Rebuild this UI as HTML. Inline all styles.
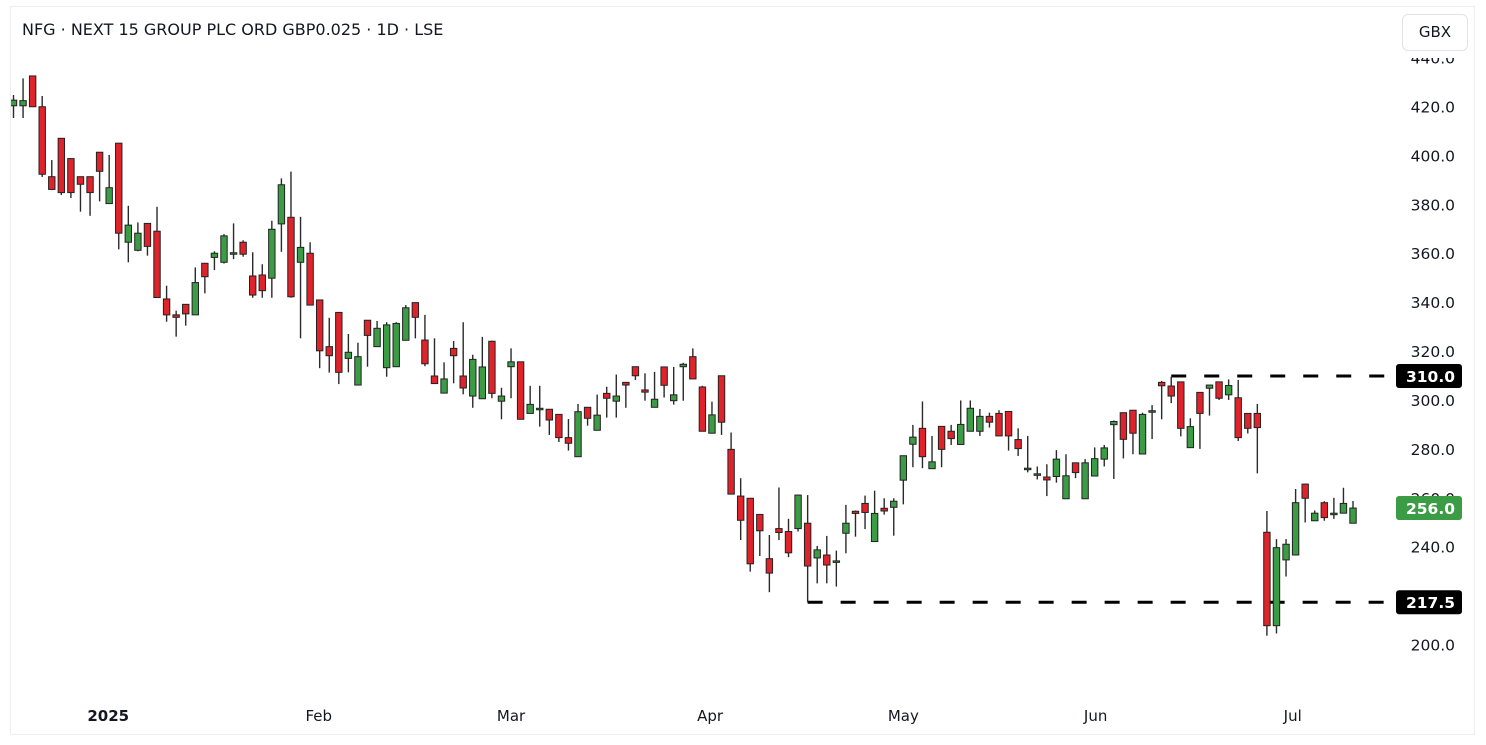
<!DOCTYPE html>
<html><head><meta charset="utf-8">
<style>
html,body{margin:0;padding:0;background:#fff;}
body{width:1486px;height:745px;position:relative;overflow:hidden;font-family:"DejaVu Sans","Liberation Sans",sans-serif;}
#frame{position:absolute;left:10px;top:6px;width:1465px;height:729px;border:1px solid #eceef1;box-sizing:border-box;}
#title{position:absolute;left:22px;top:20px;font-size:16px;color:#131722;white-space:nowrap;}
#gbx{position:absolute;left:1402px;top:14px;width:66px;height:37px;border:1px solid #e0e3eb;border-radius:6px;background:#fff;box-sizing:border-box;font-size:15px;color:#131722;text-align:center;line-height:35px;}
svg{position:absolute;left:0;top:0;}
</style></head>
<body>
<div id="frame"></div>
<svg id="chart" width="1486" height="745"></svg>
<div id="title">NFG · NEXT 15 GROUP PLC ORD GBP0.025 · 1D · LSE</div>
<div id="gbx">GBX</div>
<script>
const opens=[420.5,420.5,432.7,420.1,391.5,407.2,398.9,391.5,391.5,401.5,380.5,405.2,364.7,361.4,372.4,369.2,341.5,335,339.3,335,356.1,358.5,356.5,360.4,364.7,350.9,351.3,350,372.2,374.9,356.5,360.2,341.1,322,336,317.2,306.3,332.8,322,313.4,313.8,324.6,340,324.7,310,303,321.3,310,301.8,300.7,324.2,299.7,313.8,315.8,294.7,296.8,296.4,294.3,284.8,277,297.2,287.8,302.9,299.7,307.4,313.8,304.3,297.2,313.7,299.9,313.8,317.9,305.5,286.6,310.1,280,260.9,260,253.4,235.3,247.6,246.4,247.6,249.8,235.6,236.8,234.4,245.7,254.7,257.9,242.3,255.9,256.3,267.4,282.1,288.6,272.1,289.4,287.4,282,287.4,287.4,293.5,294.7,295.5,284,272.3,270,268.7,268.9,259.8,274.5,259.8,269.1,276,290.1,295,296,278.1,295.8,307.4,305.9,307.6,280.7,303.3,305,307.6,302.3,301.1,294.7,294.7,246.1,207.9,234.8,236.8,265.8,250.8,258.2,253.9,253.9,249.8];
const closes=[422.8,422.6,420.1,392.5,386.3,385,385,388.4,385,393.7,387,368.4,371.7,368.4,363,342.1,335,334,335.4,348.2,350.6,360.2,367.3,360.4,359.8,343.1,344.9,370,388.2,342.4,362.6,339,320.3,318.3,311.5,319.7,317.9,326.6,329.5,330.9,331.5,337.9,334,315,306.9,308.8,318.3,305.1,316.8,313.7,302.9,301.8,315.8,292.3,298.4,296.8,292,284.8,282.5,295.4,292.7,294,300.9,301.8,306.3,310.1,303.4,300.5,306.2,302.3,314.8,308.8,287.4,294.1,291.1,261.7,251,233.2,246.7,229.4,246,237.7,261.3,232.3,238.9,232.7,234.4,249.8,253.8,254.2,253.8,254.8,258.8,277.4,285,277,274.9,280,284.4,290.2,296.8,293.5,291.1,285.5,285.5,280.3,272.3,270,267.5,276,269.2,270.5,274.5,276.2,280.6,291.4,284.1,286.6,294.3,295.8,306,301.8,288.6,289.3,294.7,306.3,300.9,306.1,284.8,288.6,288.9,207.9,239.8,241.2,258.2,260,253.9,252.1,253.9,257.9,256];
const highs=[424.9,431.7,432.7,424.5,398.3,407.2,399,391.5,391.5,401.5,400.4,405.2,379.6,372.8,372.4,379.2,346.9,336.7,339.3,354.4,356.1,361,368,372.4,365.5,360.6,355.7,373.5,390.8,393.6,375.1,364.7,341.1,333.8,336,327.2,323.6,332.8,332.5,332,332,339,340,335,325.4,315.6,324.3,332,318.7,326,324.5,305.2,321.3,315.8,306,306,296.4,294.3,292.4,298.6,297.2,302.4,305.6,310.6,307.4,313.8,311.1,311.7,313.7,313.7,315.4,321.3,306,299.5,310.1,286.9,268.2,260,253.4,245,264.4,251.6,261.5,261.3,240.5,244.6,238.6,257.3,255,261.1,263.1,260,260,277.4,290,299.6,285.5,289.5,290,300,300,296.5,295,296,295.5,288.6,285.5,273,273.9,279.7,278,274.5,276,280.8,281.8,291.8,295,296,295,298.1,308,309.7,307.6,292.7,303.3,306.3,307.6,308.6,308.4,294.7,298.6,254.8,243.3,243.3,263.8,266,255,258.8,260.2,264.3,258.9];
const lows=[415.5,415.5,420,391.4,386,384,382.8,377.2,375.5,381.4,380.5,361.8,356.5,361,359.2,342,332.2,326.1,330.6,335,343.8,353.3,356,357.8,358.8,342,342,342,360.8,342,325.4,339,313.2,311.4,306.7,311.5,306.3,313.8,322,309.7,313.8,324.6,325.4,314,306.9,303,307,302.5,297,300.7,300.9,292.3,300.9,292.3,294.7,289.3,285.9,283,279.5,277,289.7,287.8,293,293,297,308.4,299.9,297.2,301.2,298.3,299.9,308.8,287.4,286.6,285.9,261.7,242.9,230,236.4,221.6,242.9,235.9,246.4,217.5,225.2,225.2,223.9,237.5,244.3,247.4,242.3,253.3,244.7,257.5,272.7,272.3,272.1,272.7,281.8,282,287.4,285.5,288.9,285.5,279.5,277.3,270.6,267.7,260.9,266.4,259.8,268.2,259.8,273,273,267.9,276.3,278,278.1,284.2,292.3,298.9,285.3,280.7,280.2,293.8,300.2,300.2,283.4,286.5,270.2,203.8,204.7,228,236.8,250.1,250.8,250.8,251.6,253.9,249.8];
const priceTicks=[440,420,400,380,360,340,320,300,280,260,240,200];
const monthLabels=["2025","Feb","Mar","Apr","May","Jun","Jul"];
const monthIndex=[9.9,31.9,52,72.8,93,113.1,133.7];
const levelValues=[310,217.5];
const levelStart=[121,83];
const lastPrice=256;

const NS="http://www.w3.org/2000/svg";
const svg=document.getElementById('chart');
function y(v){return 107+(420-v)*538/220;}
function x(i){return 13.5+i*9.568;}
function el(tag,attrs,parent){const e=document.createElementNS(NS,tag);for(const k in attrs)e.setAttribute(k,attrs[k]);(parent||svg).appendChild(e);return e;}

const defs=el('defs',{});
const cp=el('clipPath',{id:'plotclip'},defs);
el('rect',{x:11,y:58,width:1470,height:646},cp);

const axisG=el('g',{'clip-path':'url(#plotclip)'});


priceTicks.forEach(function(v){
  const t=el('text',{x:1455,y:y(v)+5.5,'text-anchor':'end','font-size':'15.5','fill':'#131722','font-family':'DejaVu Sans, sans-serif'},axisG);
  t.textContent=v.toFixed(1);
  
  
});

const timeG=el('g',{});


monthLabels.forEach(function(m,k){
  const t=el('text',{x:x(monthIndex[k]),y:721,'text-anchor':'middle','font-size':'15','fill':'#131722','font-weight':m==='2025'?'bold':'normal','font-family':'DejaVu Sans, sans-serif'},timeG);
  t.textContent=m;
  
  
});

const levG=el('g',{});
levelValues.forEach(function(v,k){
  const ln=el('line',{x1:x(levelStart[k]),x2:1392,y1:y(v),y2:y(v),stroke:'#000','stroke-width':3,'stroke-dasharray':'15 18'},levG);
  
  
});

const cg=el('g',{'clip-path':'url(#plotclip)'});


for(let i=0;i<opens.length;i++){
  const o=opens[i],c=closes[i],h=highs[i],l=lows[i];
  const up=c>=o;
  const g=el('g',{},cg);
  
  
  const cx=x(i);
  el('line',{x1:cx,x2:cx,y1:y(h),y2:y(l),stroke:'#2a2a2a','stroke-width':1.4},g);
  const top=y(Math.max(o,c)),bot=y(Math.min(o,c));
  const hh=Math.max(bot-top,1.5);
  el('rect',{x:cx-3.2,y:top,width:6.4,height:hh,fill:up?'#3c9b45':'#e0232b',stroke:'#222','stroke-width':1},g);
}

function label(v,bg,name){
  const g=el('g',{});
  
  
  el('rect',{x:1396,y:y(v)-12,width:66,height:24,rx:3,fill:bg},g);
  const t=el('text',{x:1455,y:y(v)+6,'text-anchor':'end','font-size':'15.5','font-weight':'bold','fill':'#fff','font-family':'DejaVu Sans, sans-serif'},g);
  t.textContent=v.toFixed(1);
}
label(levelValues[0],'#000','level-310-label');
label(levelValues[1],'#000','level-217-label');
label(lastPrice,'#3c9b45','last-price-label');
</script>
</body></html>
